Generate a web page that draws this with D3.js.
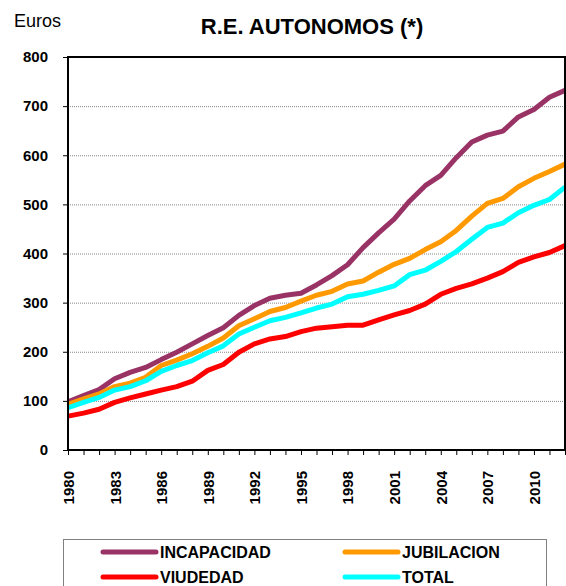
<!DOCTYPE html>
<html>
<head>
<meta charset="utf-8">
<script src="https://cdn.jsdelivr.net/npm/d3@7"></script>
<style>
    body { margin: 0; background: #fff; }
    svg { display: block; font-family: Arial, "Liberation Sans", sans-serif; }
</style>
</head>
<body>
<svg id="chart" width="566" height="586"></svg>
<script>
/* global d3 */

// Data
// --------------------
var years = d3.range(1980, 2013);
var yTicks = [0, 100, 200, 300, 400, 500, 600, 700, 800];
var seriesNames = ["INCAPACIDAD", "JUBILACION", "VIUDEDAD", "TOTAL"];
var seriesColors = ["#993366", "#FF9900", "#FF0000", "#00FFFF"];

var incapacidad = [98, 111, 123, 145, 158, 168, 184, 199, 216, 233, 249, 274, 294, 309, 315, 319,
    336, 355, 377, 412, 442, 470, 507, 538, 559, 595, 627, 641, 649, 678, 693, 718, 732];
var jubilacion = [93, 104, 114, 129, 136, 148, 172, 183, 196, 211, 228, 253, 267, 282, 290, 303,
    315, 323, 338, 344, 362, 378, 390, 408, 424, 447, 476, 502, 512, 536, 553, 567, 582];
var viudedad = [69, 75, 83, 97, 106, 114, 122, 129, 140, 162, 174, 199, 216, 226, 231, 241,
    248, 251, 254, 254, 265, 275, 284, 297, 317, 329, 338, 350, 363, 382, 393, 402, 416];
var total = [86, 97, 107, 122, 129, 141, 160, 172, 182, 198, 212, 236, 250, 263, 270, 279,
    289, 297, 312, 317, 325, 334, 357, 366, 384, 404, 429, 453, 462, 483, 498, 510, 535];

var seriesValues = [incapacidad, jubilacion, viudedad, total];

// Dimension
// --------------------
var svg = d3.select("#chart");
var plot = { left: 68, right: 565, top: 57, bottom: 450 };

var x = d3.scalePoint()
    .domain(years)
    .range([plot.left, plot.right]);
var y = d3.scaleLinear()
    .domain([0, 800])
    .range([plot.bottom, plot.top]);

// Titles
// --------------------
svg.append("text")
    .text("Euros")
    .attr("x", 14)
    .attr("y", 27)
    .attr("font-size", 18)
    .style("fill", "#000");

svg.append("text")
    .text("R.E. AUTONOMOS (*)")
    .attr("x", 312)
    .attr("y", 34)
    .attr("font-size", 22)
    .attr("font-weight", "bold")
    .attr("text-anchor", "middle")
    .style("fill", "#000");

// Grid lines
// --------------------
svg.append("g")
    .attr("class", "grid")
    .selectAll("line")
    .data(yTicks.filter(d => d > 0 && d < 800))
    .enter().append("line")
    .attr("x1", plot.left)
    .attr("x2", plot.right)
    .attr("y1", d => y(d) + 0.5)
    .attr("y2", d => y(d) + 0.5)
    .style("stroke", "#888")
    .style("stroke-width", 1)
    .style("stroke-dasharray", "1,1");

// Axes
// --------------------
var yAxis = svg.append("g")
    .attr("transform", `translate(${plot.left}, 0)`)
    .call(d3.axisLeft(y).tickValues(yTicks).tickSize(5).tickPadding(15));
yAxis.select(".domain").remove();
yAxis.selectAll("text")
    .attr("font-size", 15)
    .attr("font-weight", "bold")
    .style("fill", "#000");

var xAxis = svg.append("g")
    .attr("transform", `translate(0, ${plot.bottom})`)
    .call(d3.axisBottom(x).tickSize(5)
        .tickFormat(d => (d - 1980) % 3 === 0 ? d : ""));
xAxis.select(".domain").remove();
xAxis.selectAll("text")
    .attr("transform", "rotate(-90)")
    .attr("x", -21)
    .attr("y", 0)
    .attr("dy", "0.36em")
    .attr("text-anchor", "end")
    .attr("font-size", 15)
    .attr("font-weight", "bold")
    .style("fill", "#000");

// Series lines
// --------------------
var line = d3.line()
    .x((d, i) => x(years[i]))
    .y(d => y(d));

svg.append("g")
    .attr("class", "series")
    .selectAll("path")
    .data(seriesValues)
    .enter().append("path")
    .attr("d", line)
    .style("fill", "none")
    .style("stroke", (d, i) => seriesColors[i])
    .style("stroke-width", 5)
    .style("stroke-linejoin", "round");

// Plot frame drawn on top
svg.append("rect")
    .attr("x", plot.left)
    .attr("y", plot.top)
    .attr("width", plot.right - plot.left)
    .attr("height", plot.bottom - plot.top)
    .style("fill", "none")
    .style("stroke", "#000")
    .style("stroke-width", 2);

// Legend
// --------------------
var legend = svg.append("g")
    .attr("id", "legend");
legend.append("rect")
    .attr("x", 63.5)
    .attr("y", 539.5)
    .attr("width", 483)
    .attr("height", 60)
    .style("fill", "#fff")
    .style("stroke", "#808080")
    .style("stroke-width", 1);

var item = legend.selectAll(".item")
    .data(seriesNames)
    .enter().append("g")
    .attr("class", "item")
    .attr("transform", (d, i) => `translate(${i % 2 ? 345 : 103}, ${i < 2 ? 552 : 577})`);
item.append("line")
    .attr("x1", 0)
    .attr("x2", 53)
    .style("stroke", (d, i) => seriesColors[i])
    .style("stroke-width", 5)
    .style("stroke-linecap", "round");
item.append("text")
    .text(d => d)
    .attr("x", 57)
    .attr("dy", "0.36em")
    .attr("font-size", 16)
    .attr("font-weight", "bold")
    .style("fill", "#000");
</script>
</body>
</html>
